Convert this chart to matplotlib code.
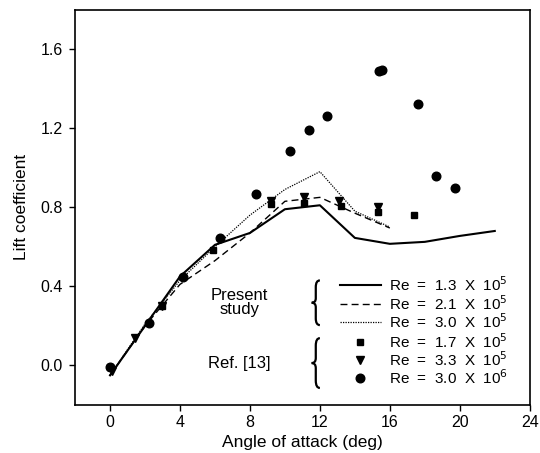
import numpy as np
import matplotlib.pyplot as plt
from matplotlib.path import Path
from matplotlib.patches import PathPatch

plt.rcParams['font.family'] = ['Liberation Sans', 'DejaVu Sans']

# present study (lines)
aoa_13 = [0, 2, 4, 6, 8, 10, 12, 14, 16, 18, 20, 22]
cl_13 = [-0.05, 0.2, 0.45, 0.61, 0.67, 0.79, 0.81, 0.645, 0.615, 0.625, 0.655, 0.68]
aoa_21 = [0, 2, 4, 6, 8, 10, 12, 14, 16]
cl_21 = [-0.05, 0.2, 0.41, 0.53, 0.67, 0.83, 0.85, 0.77, 0.695]
aoa_30 = [0, 2, 4, 6, 8, 10, 12, 14, 16]
cl_30 = [-0.05, 0.21, 0.43, 0.6, 0.76, 0.89, 0.98, 0.78, 0.70]

# Ref. [13] (symbols)
sq_x = [0, 3.0, 5.9, 9.2, 11.1, 13.2, 15.3, 17.4]
sq_y = [-0.01, 0.30, 0.585, 0.817, 0.82, 0.808, 0.778, 0.761]
tri_x = [0.1, 1.45, 3.0, 9.2, 11.1, 13.1, 15.3]
tri_y = [-0.03, 0.141, 0.30, 0.834, 0.85, 0.834, 0.803]
circ_x = [0, 2.2, 4.2, 6.3, 8.35, 10.3, 11.4, 12.4, 15.4, 15.55, 17.6, 18.65, 19.75]
circ_y = [-0.01, 0.215, 0.447, 0.644, 0.867, 1.086, 1.19, 1.259, 1.489, 1.494, 1.323, 0.956, 0.897]

labels = ['Re  =  1.3  X  10$^5$', 'Re  =  2.1  X  10$^5$', 'Re  =  3.0  X  10$^5$',
          'Re  =  1.7  X  10$^5$', 'Re  =  3.3  X  10$^5$', 'Re  =  3.0  X  10$^6$']

fig = plt.figure(figsize=(5.4, 4.53), dpi=100)
ax = fig.add_axes([0.139, 0.106, 0.842, 0.873])

ax.plot(aoa_13, cl_13, color='black', lw=1.5, ls='-')
ax.plot(aoa_21, cl_21, color='black', lw=1.0, ls=(0, (5, 3)))
ax.plot(aoa_30, cl_30, color='black', lw=0.9, ls=(0, (1, 1)))
ax.plot(sq_x, sq_y, 's', color='black', ms=5)
ax.plot(tri_x, tri_y, 'v', color='black', ms=5.5)
ax.plot(circ_x, circ_y, 'o', color='black', ms=6.2)

ax.set_xlim(-2, 24)
ax.set_ylim(-0.2, 1.8)
ax.set_xticks([0, 4, 8, 12, 16, 20, 24])
ax.set_yticks([0.0, 0.4, 0.8, 1.2, 1.6])
ax.set_yticklabels(['0.0', '0.4', '0.8', '1.2', '1.6'])
ax.tick_params(direction='out', length=4, width=1, labelsize=11.5)
ax.tick_params(axis='y', pad=5)
for s in ax.spines.values():
    s.set_linewidth(1.2)
ax.set_xlabel('Angle of attack (deg)', fontsize=12.5, labelpad=3)
ax.set_ylabel('Lift coefficient', fontsize=12.5, labelpad=8)

# hand-made legend
row_y = [0.409, 0.313, 0.220, 0.119, 0.030, -0.064]
styles = ['-', (0, (5, 3)), (0, (1, 1))]
widths = [1.5, 1.0, 0.9]
for i in range(3):
    ax.plot([13.14, 15.5], [row_y[i]] * 2, color='black', ls=styles[i], lw=widths[i])
for i, (m, ms) in enumerate([('s', 5), ('v', 5.5), ('o', 6.2)]):
    ax.plot([14.29], [row_y[3 + i]], m, color='black', ms=ms)
for i in range(6):
    ax.text(15.96, row_y[i], labels[i], fontsize=11, va='center', ha='left')

ax.text(7.4, 0.317, 'Present\nstudy', fontsize=12, ha='center', va='center',
        linespacing=0.9)
ax.text(7.4, 0.01, 'Ref. [13]', fontsize=12, ha='center', va='center')


def brace(ax, x, y0, y1, w):
    h = y1 - y0
    m = y0 + h / 2
    verts = [(x + w, y1), (x + w / 2, y1), (x + w / 2, y1 - 0.15 * h),
             (x + w / 2, m + 0.1 * h),
             (x + w / 2, m), (x, m),
             (x + w / 2, m), (x + w / 2, m - 0.1 * h),
             (x + w / 2, y0 + 0.15 * h),
             (x + w / 2, y0), (x + w, y0)]
    codes = [Path.MOVETO, Path.CURVE3, Path.CURVE3,
             Path.LINETO,
             Path.CURVE3, Path.CURVE3,
             Path.CURVE3, Path.CURVE3,
             Path.LINETO,
             Path.CURVE3, Path.CURVE3]
    ax.add_patch(PathPatch(Path(verts, codes), fill=False, lw=1.6, color='black'))


brace(ax, 11.53, 0.204, 0.43, 0.47)
brace(ax, 11.53, -0.114, 0.138, 0.47)

fig.savefig('out.png', dpi=100)
